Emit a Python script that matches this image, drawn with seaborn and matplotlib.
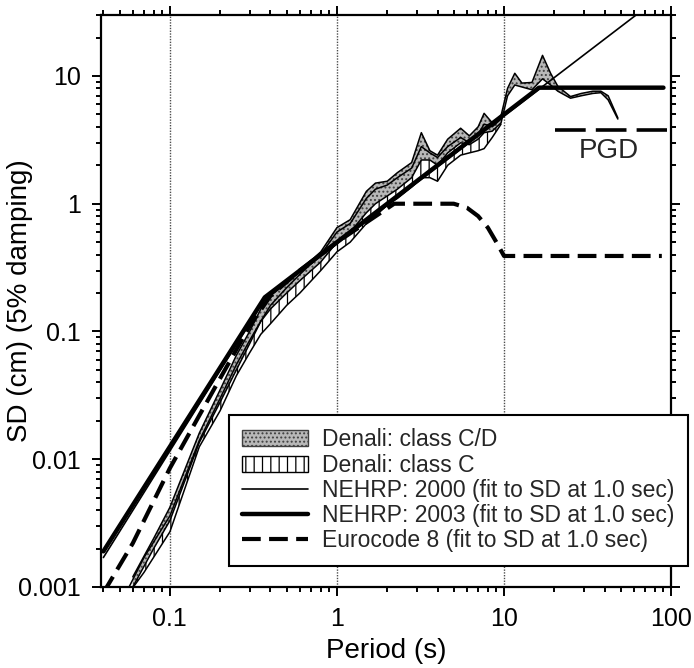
import numpy as np
import pandas as pd
import seaborn as sns
import matplotlib
matplotlib.use("Agg")
import matplotlib.pyplot as plt
from matplotlib.patches import Patch
from matplotlib.lines import Line2D
from matplotlib.ticker import LogLocator, NullFormatter

# --- values (period in s, SD in cm) ---
# Denali class C envelope
c_period = [0.057, 0.07, 0.1, 0.15, 0.2, 0.25, 0.3, 0.35, 0.4, 0.5, 0.6, 0.8, 1.0, 1.2,
            1.5, 1.7, 2.0, 2.3, 2.8, 3.2, 3.6, 4.0, 4.6, 5.5, 6.2, 7.0, 7.6, 8.5, 9.6]
c_lower = [0.0009, 0.0013, 0.0027, 0.0125, 0.024, 0.045, 0.068, 0.095, 0.115, 0.16, 0.2,
           0.3, 0.42, 0.5, 0.7, 0.8, 0.98, 1.1, 1.35, 1.6, 1.6, 1.5, 2.0, 2.4, 2.5, 2.6,
           2.7, 3.3, 4.2]
c_upper = [0.001, 0.0017, 0.0036, 0.014, 0.03, 0.055, 0.085, 0.12, 0.16, 0.22, 0.28, 0.4,
           0.6, 0.7, 1.1, 1.3, 1.4, 1.6, 1.9, 2.8, 2.5, 2.3, 2.8, 3.3, 3.0, 3.5, 4.2, 4.0,
           4.6]

# Denali class C/D envelope
cd_period = [0.06, 0.08, 0.1, 0.15, 0.2, 0.25, 0.3, 0.35, 0.4, 0.5, 0.6, 0.8, 1.0, 1.2,
             1.5, 1.7, 2.0, 2.3, 2.8, 3.2, 3.6, 4.0, 4.6, 5.5, 6.2, 7.0, 7.6, 8.5, 9.6,
             10.5, 11.6, 12.8, 14.7, 17, 19, 21, 25, 29, 34, 38, 42, 48]
cd_lower = [0.001, 0.002, 0.0033, 0.0135, 0.028, 0.05, 0.08, 0.12, 0.15, 0.2, 0.25, 0.35,
            0.5, 0.6, 0.85, 1.0, 1.15, 1.3, 1.6, 2.2, 2.2, 2.0, 2.5, 3.0, 2.9, 3.2, 3.6,
            3.7, 4.3, 7.0, 8.5, 8.2, 7.8, 9.5, 8.5, 7.6, 6.7, 7.0, 7.3, 7.4, 6.5, 4.6]
cd_upper = [0.0012, 0.0024, 0.0042, 0.016, 0.035, 0.065, 0.1, 0.15, 0.19, 0.24, 0.3, 0.42,
            0.65, 0.75, 1.25, 1.45, 1.5, 1.75, 2.1, 3.6, 2.6, 2.4, 3.2, 3.9, 3.4, 4.0, 5.1,
            4.3, 4.9, 8.0, 10.5, 8.8, 8.9, 14.5, 10.5, 8.3, 6.9, 7.3, 7.6, 7.6, 7.0, 4.7]

# code spectra
nehrp2000_period = [0.04, 0.37, 65]
nehrp2000_sd = [0.0017, 0.18, 31.6]
nehrp2003_period = [0.04, 0.37, 16.2, 90]
nehrp2003_sd = [0.0019, 0.185, 8.1, 8.1]
ec8_period = [0.04, 0.06, 0.1, 0.15, 0.2, 0.3, 0.4, 0.6, 1.0, 2.2, 5.0, 6.0, 7.0, 8.0,
              9.0, 10.0, 88]
ec8_sd = [0.0009, 0.0022, 0.0085, 0.022, 0.043, 0.11, 0.19, 0.3, 0.5, 1.0, 1.0, 0.93,
          0.8, 0.65, 0.5, 0.39, 0.39]
pgd_period = [20.2, 95]
pgd_sd = [3.8, 3.8]

sns.set_theme(style="ticks")
plt.rcParams["font.family"] = ["Liberation Sans", "DejaVu Sans"]
plt.rcParams["hatch.linewidth"] = 0.9

fig = plt.figure(figsize=(6.94, 6.68), dpi=100)
ax = fig.add_axes([0.1455, 0.1213, 0.8215, 0.8562])
ax.set_xscale("log")
ax.set_yscale("log")

for xv in [0.1, 1, 10]:
    ax.axvline(xv, color="0.3", lw=1.0, ls=(0, (1, 1)), zorder=0)

# bands
ax.fill_between(c_period, c_lower, c_upper, facecolor="white", edgecolor="black",
                hatch="||", lw=0, zorder=1)
ax.fill_between(cd_period, cd_lower, cd_upper, facecolor="#b8b8b8", edgecolor="#404040",
                hatch="....", lw=0, zorder=2)
for p, v in [(c_period, c_lower), (c_period, c_upper), (cd_period, cd_lower), (cd_period, cd_upper)]:
    ax.plot(p, v, color="black", lw=1.1, zorder=3)

lines = pd.concat([
    pd.DataFrame({"T": nehrp2000_period, "SD": nehrp2000_sd, "curve": "n2000"}),
    pd.DataFrame({"T": nehrp2003_period, "SD": nehrp2003_sd, "curve": "n2003"}),
    pd.DataFrame({"T": ec8_period, "SD": ec8_sd, "curve": "ec8"}),
    pd.DataFrame({"T": pgd_period, "SD": pgd_sd, "curve": "pgd"}),
])
styles = {"n2000": dict(lw=1.2), "n2003": dict(lw=3.2),
          "ec8": dict(lw=3.0, dashes=(4.5, 2.0)), "pgd": dict(lw=2.6, dashes=(8.5, 2.8))}
for name, st in styles.items():
    sub = lines[lines["curve"] == name]
    l = sns.lineplot(data=sub, x="T", y="SD", ax=ax, color="black", sort=False,
                     estimator=None, lw=st["lw"], zorder=5, legend=False)
    if "dashes" in st:
        l.lines[-1].set_dashes(st["dashes"])
        l.lines[-1].set_dash_capstyle("butt")

ax.text(42.2, 2.6, "PGD", fontsize=20, ha="center", va="center")

ax.set_xlim(0.0387, 100)
ax.set_ylim(0.001, 30)
ax.set_xticks([0.1, 1, 10, 100], labels=["0.1", "1", "10", "100"])
ax.set_yticks([0.001, 0.01, 0.1, 1, 10], labels=["0.001", "0.01", "0.1", "1", "10"])
ax.xaxis.set_minor_locator(LogLocator(base=10, subs=np.arange(2, 10)))
ax.yaxis.set_minor_locator(LogLocator(base=10, subs=np.arange(2, 10)))
ax.xaxis.set_minor_formatter(NullFormatter())
ax.yaxis.set_minor_formatter(NullFormatter())
ax.tick_params(which="both", direction="out", top=True, right=True, width=1.4,
               color="black", labelsize=18, labelcolor="black")
ax.tick_params(which="major", length=6.5, pad=8)
ax.tick_params(which="minor", length=3.8)
for s in ax.spines.values():
    s.set_linewidth(1.6)
    s.set_color("black")
ax.set_xlabel("Period (s)", fontsize=20, color="black", labelpad=5)
ax.set_ylabel("SD (cm) (5% damping)", fontsize=20, color="black")
ax.yaxis.set_label_coords(-0.12, 0.5)

handles = [
    Patch(facecolor="#b8b8b8", edgecolor="#404040", hatch="....", lw=1.0),
    Patch(facecolor="white", edgecolor="black", hatch="||", lw=1.0),
    Line2D([], [], color="black", lw=1.2),
    Line2D([], [], color="black", lw=3.2),
    Line2D([], [], color="black", lw=3.0, dashes=(4.5, 2.0)),
]
labels = ["Denali: class C/D", "Denali: class C",
          "NEHRP: 2000 (fit to SD at 1.0 sec)", "NEHRP: 2003 (fit to SD at 1.0 sec)",
          "Eurocode 8 (fit to SD at 1.0 sec)"]
leg = fig.legend(handles, labels, loc="upper left", bbox_to_anchor=(229 / 694, 1 - 415 / 668),
                 fontsize=16.5, frameon=True, fancybox=False, framealpha=1,
                 edgecolor="black", handlelength=2.85, handletextpad=0.65,
                 labelspacing=0.1, borderpad=0.58, borderaxespad=0)
leg.get_frame().set_linewidth(1.5)

fig.savefig("out.png", dpi=100)
